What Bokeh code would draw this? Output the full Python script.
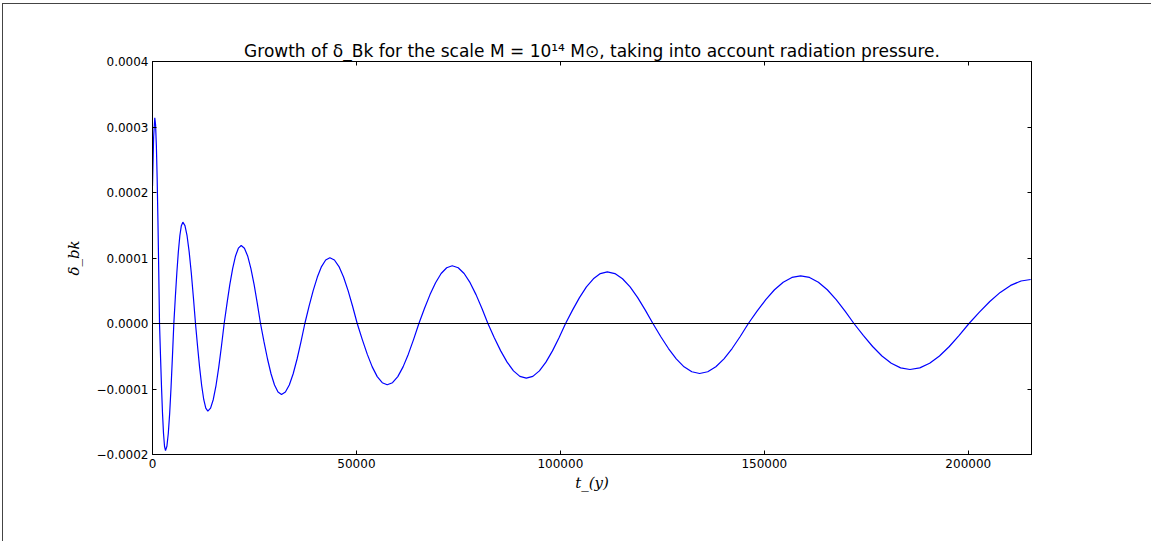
from bokeh.plotting import figure
from bokeh.layouts import column
from bokeh.models import Range1d, FixedTicker, LinearAxis, Span, Div
from bokeh.embed import file_html
from bokeh.resources import INLINE

# ---- data ----
t_years = [0, 280, 560, 753, 947, 1140, 1333, 1527, 1720,
           1965, 2210, 2455, 2700, 2945, 3190, 3530, 3870, 4210, 4550, 4890, 5230,
           5598, 5967, 6335, 6703, 7072, 7440, 7957, 8473, 8990, 9507, 10023, 10540,
           11045, 11550, 12055, 12560, 13065, 13570, 14237, 14903, 15570, 16237, 16903, 17570,
           18267, 18963, 19660, 20357, 21053, 21750, 22538, 23327, 24115, 24903, 25692, 26480,
           27338, 28197, 29055, 29913, 30772, 31630, 32583, 33537, 34490, 35443, 36397, 37350,
           38372, 39393, 40415, 41437, 42458, 43480, 44598, 45717, 46835, 47953, 49072, 50190,
           51417, 52643, 53870, 55097, 56323, 57550, 58843, 60137, 61430, 62723, 64017, 65310,
           66673, 68037, 69400, 70763, 72127, 73490, 74947, 76403, 77860, 79317, 80773, 82230,
           83798, 85367, 86935, 88503, 90072, 91640, 93245, 94850, 96455, 98060, 99665, 101270,
           102975, 104680, 106385, 108090, 109795, 111500, 113363, 115227, 117090, 118953, 120817, 122680,
           124588, 126497, 128405, 130313, 132222, 134130, 136122, 138113, 140105, 142097, 144088, 146080,
           148217, 150353, 152490, 154627, 156763, 158900, 161078, 163257, 165435, 167613, 169792, 171970,
           174258, 176547, 178835, 181123, 183412, 185700, 188113, 190527, 192940, 195353, 197767, 200180,
           202730, 205280, 207830, 210380, 212930, 215300]

delta_bk = [2.10e-4, 2.85e-4, 3.14e-4, 3.033e-4, 2.719e-4, 2.220e-4, 1.570e-4, 0.813e-4, 0.0,
            -0.502e-4, -0.970e-4, -1.372e-4, -1.680e-4, -1.874e-4, -1.94e-4, -1.874e-4, -1.680e-4, -1.372e-4, -0.970e-4, -0.502e-4, 0.0,
            0.400e-4, 0.774e-4, 1.094e-4, 1.340e-4, 1.494e-4, 1.547e-4, 1.494e-4, 1.340e-4, 1.094e-4, 0.774e-4, 0.400e-4, 0.0,
            -0.347e-4, -0.670e-4, -0.947e-4, -1.160e-4, -1.293e-4, -1.339e-4, -1.293e-4, -1.160e-4, -0.947e-4, -0.670e-4, -0.347e-4, 0.0,
            0.308e-4, 0.596e-4, 0.842e-4, 1.031e-4, 1.150e-4, 1.191e-4, 1.150e-4, 1.031e-4, 0.842e-4, 0.596e-4, 0.308e-4, 0.0,
            -0.281e-4, -0.542e-4, -0.767e-4, -0.939e-4, -1.047e-4, -1.084e-4, -1.047e-4, -0.939e-4, -0.767e-4, -0.542e-4, -0.281e-4, 0.0,
            0.260e-4, 0.502e-4, 0.709e-4, 0.869e-4, 0.969e-4, 1.003e-4, 0.969e-4, 0.869e-4, 0.709e-4, 0.502e-4, 0.260e-4, 0.0,
            -0.242e-4, -0.468e-4, -0.662e-4, -0.811e-4, -0.904e-4, -0.936e-4, -0.904e-4, -0.811e-4, -0.662e-4, -0.468e-4, -0.242e-4, 0.0,
            0.228e-4, 0.441e-4, 0.623e-4, 0.763e-4, 0.851e-4, 0.881e-4, 0.851e-4, 0.763e-4, 0.623e-4, 0.441e-4, 0.228e-4, 0.0,
            -0.216e-4, -0.418e-4, -0.590e-4, -0.723e-4, -0.807e-4, -0.835e-4, -0.807e-4, -0.723e-4, -0.590e-4, -0.418e-4, -0.216e-4, 0.0,
            0.204e-4, 0.395e-4, 0.558e-4, 0.683e-4, 0.762e-4, 0.789e-4, 0.762e-4, 0.683e-4, 0.558e-4, 0.395e-4, 0.204e-4, 0.0,
            -0.198e-4, -0.382e-4, -0.540e-4, -0.661e-4, -0.737e-4, -0.763e-4, -0.737e-4, -0.661e-4, -0.540e-4, -0.382e-4, -0.198e-4, 0.0,
            0.188e-4, 0.364e-4, 0.515e-4, 0.630e-4, 0.703e-4, 0.728e-4, 0.703e-4, 0.630e-4, 0.515e-4, 0.364e-4, 0.188e-4, 0.0,
            -0.182e-4, -0.351e-4, -0.496e-4, -0.608e-4, -0.678e-4, -0.702e-4, -0.678e-4, -0.608e-4, -0.496e-4, -0.351e-4, -0.182e-4, 0.0,
            0.174e-4, 0.336e-4, 0.475e-4, 0.582e-4, 0.649e-4, 0.672e-4]

x_ticks = [0, 50000, 100000, 150000, 200000]
x_tick_labels = ["0", "50000", "100000", "150000", "200000"]
y_ticks = [-0.0002, -0.0001, 0.0, 0.0001, 0.0002, 0.0003, 0.0004]
y_tick_labels = ["\u22120.0002", "\u22120.0001", "0.0000", "0.0001", "0.0002", "0.0003", "0.0004"]

title_text = "Growth of \u03b4_Bk for the scale M = 10\u00b9\u2074 M\u2299, taking into account radiation pressure."
x_label = "t_(y)"
y_label = "\u03b4_bk"

# ---- figure ----
p = figure(width=1148, height=537, output_backend="svg", toolbar_location=None,
           x_range=Range1d(0, 215500), y_range=Range1d(-0.0002, 0.0004),
           min_border_left=149, min_border_right=120, min_border_top=57, min_border_bottom=87,
           title=title_text, background_fill_color="white", border_fill_color="white")
p.grid.visible = False
p.outline_line_color = "black"
p.outline_line_width = 1

p.title.text_font = "DejaVu Sans"
p.title.text_font_size = "17px"
p.title.text_font_style = "normal"
p.title.text_color = "black"
p.title.align = "center"
p.title.standoff = 2

bottom_ax = p.below[0]
left_ax = p.left[0]

xt = FixedTicker(ticks=x_ticks, minor_ticks=[])
yt = FixedTicker(ticks=y_ticks, minor_ticks=[])
x_over = {t: l for t, l in zip(x_ticks, x_tick_labels)}
y_over = {t: l for t, l in zip(y_ticks, y_tick_labels)}

bottom_ax.ticker = xt
bottom_ax.major_label_overrides = x_over
left_ax.ticker = yt
left_ax.major_label_overrides = y_over

top_ax = LinearAxis(ticker=xt)
right_ax = LinearAxis(ticker=yt)
p.add_layout(top_ax, "above")
p.add_layout(right_ax, "right")

for ax in [bottom_ax, left_ax, top_ax, right_ax]:
    ax.major_tick_in = 4
    ax.major_tick_out = 0
    ax.minor_tick_in = 0
    ax.minor_tick_out = 0
    ax.axis_line_color = "black"
    ax.major_tick_line_color = "black"
    ax.major_label_text_font = "DejaVu Sans"
    ax.major_label_text_font_size = "12px"
    ax.major_label_text_color = "black"
    ax.major_label_standoff = 4

for ax in [top_ax, right_ax]:
    ax.major_label_text_color = None
    ax.major_label_text_font_size = "1px"
    ax.major_label_standoff = 0

bottom_ax.axis_label = x_label
bottom_ax.axis_label_text_font = "DejaVu Serif"
bottom_ax.axis_label_text_font_style = "italic"
bottom_ax.axis_label_text_font_size = "15px"
bottom_ax.axis_label_standoff = 3
bottom_ax.axis_label_text_color = "black"

left_ax.axis_label = y_label
left_ax.axis_label_text_font = "DejaVu Serif"
left_ax.axis_label_text_font_style = "italic"
left_ax.axis_label_text_font_size = "15px"
left_ax.axis_label_standoff = 10
left_ax.axis_label_text_color = "black"

p.add_layout(Span(location=0, dimension="width", line_color="black", line_width=1))
p.line(t_years, delta_bk, line_color="#0000ff", line_width=1.2)

top_rule = Div(text="", width=1148, height=1, margin=0,
               styles={"background-color": "#444444"})

layout = column(top_rule, p, spacing=0,
                styles={"margin-left": "2px", "margin-top": "3px",
                        "border-left": "1px solid #444444"})

open("out.html", "w").write(file_html(layout, INLINE))
